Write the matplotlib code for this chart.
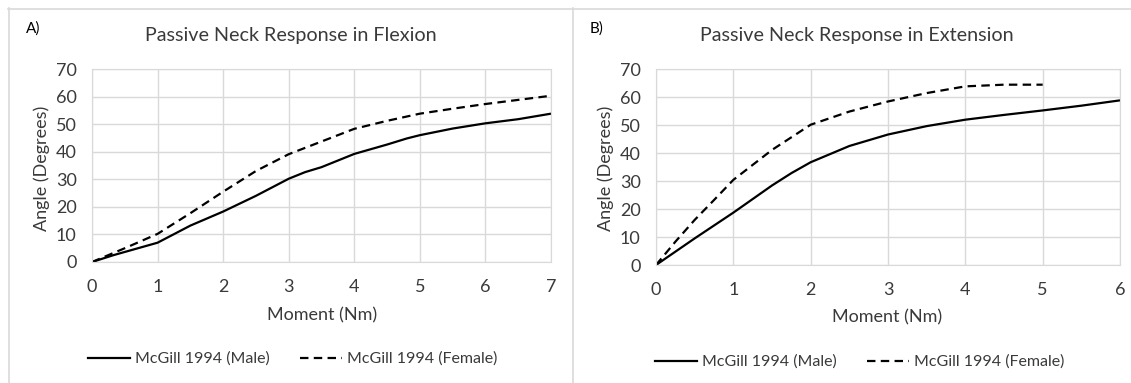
import numpy as np
import matplotlib.pyplot as plt
from matplotlib.lines import Line2D

plt.rcParams['font.family'] = ['Lato', 'DejaVu Sans']

# Flexion (panel A)
flex_moment = [0, 0.33, 1, 1.5, 2, 2.5, 3, 3.25, 3.5, 4, 4.5, 4.8, 5, 5.5, 6, 6.5, 7]
flex_male = [0, 2.5, 7.0, 13.2, 18.3, 24.0, 30.2, 32.6, 34.4, 39.2, 42.6, 44.8, 46.0, 48.4, 50.3, 51.8, 53.8]
flex_fem_moment = [0, 0.5, 1, 1.5, 2, 2.5, 3, 3.5, 4, 4.5, 5, 5.5, 6, 6.5, 7]
flex_female = [0, 5.0, 10.2, 17.7, 25.5, 33.0, 39.1, 43.7, 48.3, 51.2, 53.8, 55.6, 57.3, 58.8, 60.3]

# Extension (panel B)
ext_moment = [0, 0.5, 1, 1.5, 1.75, 2, 2.5, 3, 3.5, 4, 4.5, 5, 5.5, 6]
ext_male = [0, 9.5, 18.7, 28.4, 32.8, 36.7, 42.5, 46.6, 49.6, 51.9, 53.6, 55.2, 56.9, 58.8]
ext_fem_moment = [0, 0.25, 0.5, 0.75, 1, 1.5, 2, 2.5, 3, 3.5, 4, 4.5, 5]
ext_female = [0, 8.3, 16.1, 23.2, 30.4, 41.1, 50.1, 54.8, 58.4, 61.4, 63.8, 64.4, 64.4]

W, H = 1131, 383
fig = plt.figure(figsize=(W / 100, H / 100), dpi=100)
grid_c = '#d9d9d9'
txt_c = '#3a3a3a'


def px_axes(l, t, r, b):
    return fig.add_axes([l / W, 1 - b / H, (r - l) / W, (b - t) / H])


def fx(x):
    return x / W


def fy(y):
    return 1 - y / H


dash = (3.8, 2.4)

panels = [
    dict(box=(92, 69, 551, 262), xmax=7, title='Passive Neck Response in Flexion', tag='A)',
         tagx=33, titlex=291, ylx=42, xlx=322, xly=315, legx=293, legy=359,
         m=flex_moment, male=flex_male, fm=flex_fem_moment, female=flex_female),
    dict(box=(656, 69, 1120, 265), xmax=6, title='Passive Neck Response in Extension', tag='B)',
         tagx=597, titlex=857, ylx=606, xlx=887, xly=317, legx=860, legy=362,
         m=ext_moment, male=ext_male, fm=ext_fem_moment, female=ext_female),
]

for p in panels:
    ax = px_axes(*p['box'])
    ax.plot(p['m'], p['male'], color='black', lw=1.6, solid_capstyle='butt')
    ax.plot(p['fm'], p['female'], color='black', lw=1.6, linestyle=(0, dash))
    ax.set_xlim(0, p['xmax'])
    ax.set_ylim(0, 70)
    ax.set_xticks(range(0, p['xmax'] + 1))
    ax.set_yticks(range(0, 71, 10))
    ax.grid(True, color=grid_c, lw=1)
    ax.set_axisbelow(True)
    for s in ax.spines.values():
        s.set_color(grid_c)
    ax.tick_params(length=0, labelsize=13, colors=txt_c)
    ax.tick_params(axis='x', pad=12)
    ax.tick_params(axis='y', pad=11)

    fig.text(fx(p['titlex']), fy(35), p['title'], ha='center', va='center', fontsize=14.2, color=txt_c)
    fig.text(fx(p['tagx']), fy(29), p['tag'], ha='center', va='center', fontsize=11, color='black')
    fig.text(fx(p['ylx']), fy(168), 'Angle (Degrees)', rotation=90, ha='center', va='center',
             fontsize=13, color=txt_c)
    fig.text(fx(p['xlx']), fy(p['xly']), 'Moment (Nm)', ha='center', va='center',
             fontsize=13, color=txt_c)

    handles = [Line2D([], [], color='black', lw=1.6),
               Line2D([], [], color='black', lw=1.6, linestyle=(0, dash))]
    fig.legend(handles, ['McGill 1994 (Male)', 'McGill 1994 (Female)'], loc='center',
               bbox_to_anchor=(fx(p['legx']), fy(p['legy'])), ncol=2, frameon=False,
               fontsize=11.5, handlelength=2.6, handletextpad=0.35, columnspacing=1.9,
               labelcolor=txt_c)

# panel borders
border = dict(color=grid_c, lw=1.2, transform=fig.transFigure)
fig.add_artist(Line2D([fx(8), 1], [fy(8.5), fy(8.5)], **border))
fig.add_artist(Line2D([fx(8.5), fx(8.5)], [fy(8), 0], **border))
fig.add_artist(Line2D([fx(573), fx(573)], [fy(8), 0], **border))

fig.savefig('out.png', dpi=100)
